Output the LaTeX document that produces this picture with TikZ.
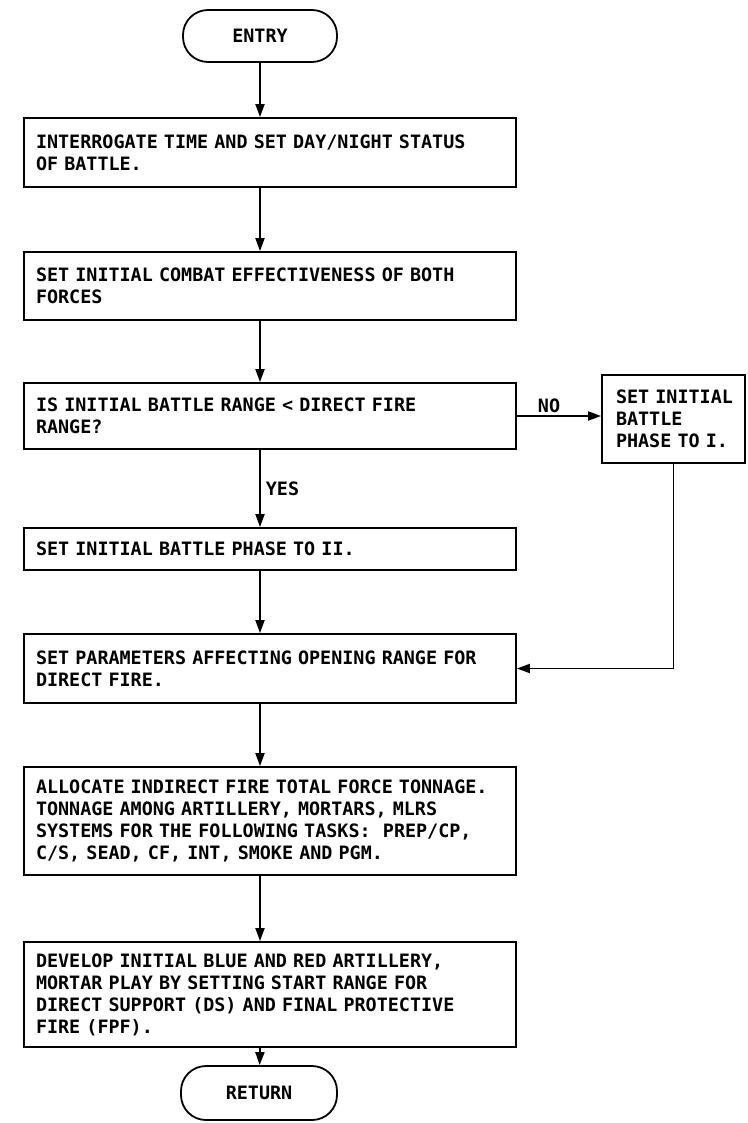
\documentclass[tikz,border=0pt]{standalone}
\usepackage{fontspec}
\setmonofont{DejaVu Sans Mono}
\usetikzlibrary{arrows.meta}
\begin{document}
\begin{tikzpicture}[x=1pt,y=-1pt,
  font=\ttfamily\bfseries\fontsize{18.4}{22}\selectfont,
  box/.style={draw, line width=1.8pt, text width=468pt, inner xsep=12pt, inner ysep=0pt, align=left, minimum width=492pt},
  sidebox/.style={draw, line width=1.8pt, text width=115pt, inner xsep=14pt, inner ysep=0pt, align=left},
  term/.style={draw, line width=1.8pt, rounded corners=25pt, minimum width=154pt, minimum height=52pt},
  arr/.style={-{Triangle[length=13pt,width=9pt]}, line width=1.8pt},
  lbl/.style={inner sep=2pt}]
\useasboundingbox (0,0) rectangle (747,1123);
\node[term] (entry) at (260,36) {ENTRY};
\node[box, minimum height=69pt] (b1) at (270,152.5) {\mbox{INTERROGATE TIME AND SET DAY/NIGHT STATUS}\\OF BATTLE.};
\node[box, minimum height=68pt] (b2) at (270,286) {SET INITIAL COMBAT EFFECTIVENESS OF BOTH\\FORCES};
\node[box, minimum height=66pt] (b3) at (270,416) {IS INITIAL BATTLE RANGE < DIRECT FIRE\\RANGE?};
\node[sidebox, minimum height=88pt] (r) at (673.5,419) {\mbox{SET INITIAL}\\BATTLE\\\mbox{PHASE TO I.}};
\node[box, minimum height=42pt] (b4) at (270,549) {SET INITIAL BATTLE PHASE TO II.};
\node[box, minimum height=69pt] (b5) at (270,668.5) {\mbox{SET PARAMETERS AFFECTING OPENING RANGE FOR}\\DIRECT FIRE.};
\node[box, minimum height=108pt] (b6) at (270,821) {\mbox{ALLOCATE INDIRECT FIRE TOTAL FORCE TONNAGE.}\\\mbox{TONNAGE AMONG ARTILLERY, MORTARS, MLRS}\\\mbox{SYSTEMS FOR THE FOLLOWING TASKS:~ PREP/CP,}\\\mbox{C/S, SEAD, CF, INT, SMOKE AND PGM.}};
\node[box, minimum height=105pt] (b7) at (270,994.5) {\mbox{DEVELOP INITIAL BLUE AND RED ARTILLERY,}\\\mbox{MORTAR PLAY BY SETTING START RANGE FOR}\\\mbox{DIRECT SUPPORT (DS) AND FINAL PROTECTIVE}\\FIRE (FPF).};
\node[term, minimum width=156pt, minimum height=54pt] (ret) at (259,1093) {RETURN};

\draw[arr] (entry) -- (entry |- b1.north);
\draw[arr] (b1.south -| entry) -- (b2.north -| entry);
\draw[arr] (b2.south -| entry) -- (b3.north -| entry);
\draw[arr] (b3.south -| entry) -- node[lbl, right, xshift=3pt] {YES} (b4.north -| entry);
\draw[arr] (b4.south -| entry) -- (b5.north -| entry);
\draw[arr] (b5.south -| entry) -- (b6.north -| entry);
\draw[arr] (b6.south -| entry) -- (b7.north -| entry);
\draw[arr] (b7.south -| entry) -- (ret);
\draw[arr] (b3.east) -- node[lbl, above, xshift=-10pt] {NO} (b3.east -| r.west);
\draw[arr] (r.south) |- (b5.east);
\end{tikzpicture}
\end{document}
